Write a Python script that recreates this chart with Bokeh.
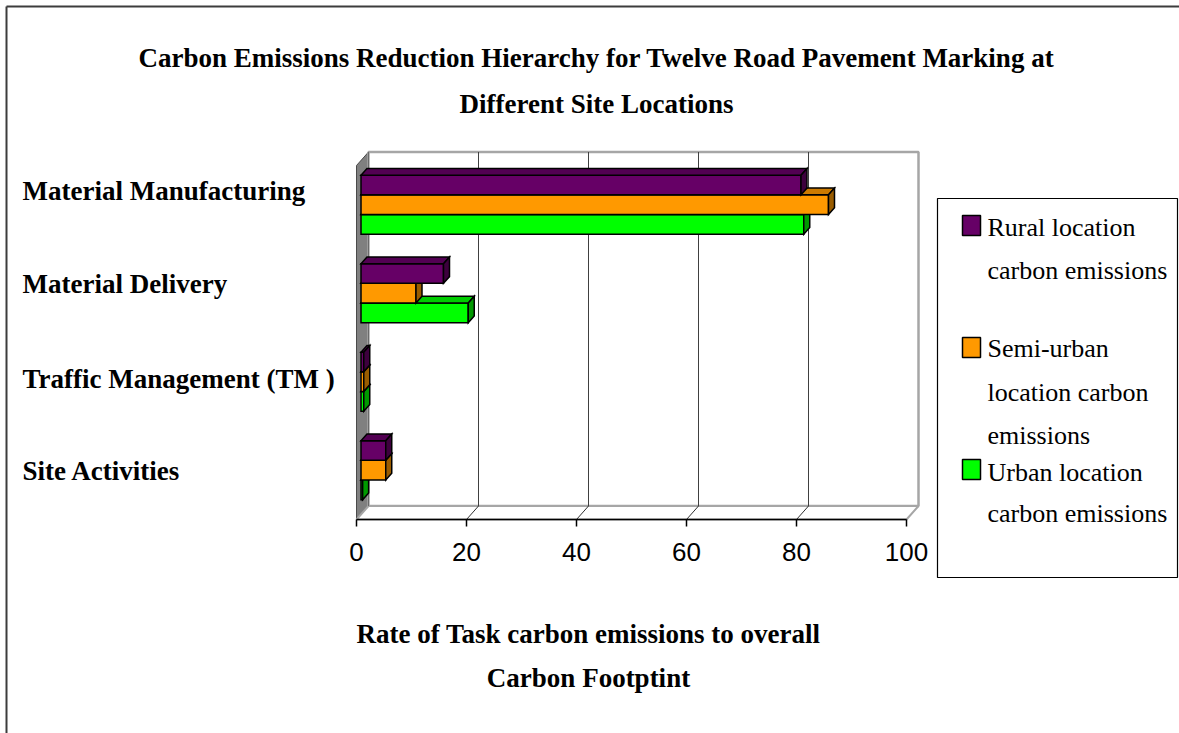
from bokeh.plotting import figure
from bokeh.models import Range1d, LinearAxis, FixedTicker, ColumnDataSource
from bokeh.core.properties import value
from bokeh.embed import file_html
from bokeh.resources import INLINE

# ---- data -------------------------------------------------------------
categories = ["Material Manufacturing", "Material Delivery",
              "Traffic Management (TM )", "Site Activities"]
rural = [80, 15, 0.5, 4.5]
semi_urban = [85, 10, 0.5, 4.5]
urban = [80.5, 19.5, 0.5, 0.3]
series = [rural, semi_urban, urban]
legend_lines = [["Rural location", "carbon emissions"],
                ["Semi-urban", "location carbon", "emissions"],
                ["Urban location", "carbon emissions"]]
x_ticks = [0, 20, 40, 60, 80, 100]
title_lines = ["Carbon Emissions Reduction Hierarchy for Twelve Road Pavement Marking at",
               "Different Site Locations"]
x_title_lines = ["Rate of Task carbon emissions to overall", "Carbon Footptint"]

# ---- styling ------------------------------------------------------------
front_cols = ["#660066", "#FF9900", "#00FF00"]
top_cols = ["#520052", "#CC7A00", "#00CC00"]
side_cols = ["#3D003D", "#995C00", "#009900"]

W, H = 1179, 733
X0, SX = 356.0, 5.5     # page x of value 0 on the front axis, px per unit
Y0, SY = 519.0, 88.5    # page y of the front floor edge, px per category slot
DEPTH_X, DEPTH_Y = 12.0, 13.5  # 3-D depth of the plot box in px
F0, F1 = 0.375, 0.875          # bar front / back as fraction of depth


def X(px):
    return (px - X0) / SX


def Y(py):
    return (Y0 - py) / SY


DX = DEPTH_X / SX
DY = DEPTH_Y / SY
N = len(categories)
XMAX = x_ticks[-1]

p = figure(width=W, height=H, x_range=Range1d(X(0), X(W)), y_range=Range1d(Y(H), Y(0)),
           x_axis_type=None, y_axis_type=None, toolbar_location=None,
           output_backend="svg", min_border=0)
p.outline_line_color = None
p.background_fill_color = "white"
p.border_fill_color = "white"

# ---- walls and floor ---------------------------------------------------
p.patch([0, DX, DX, 0], [0, DY, N + DY, N], fill_color="#808080",
        line_color="#4a4a4a", line_width=1)
p.quad(left=[DX], right=[XMAX + DX], bottom=[DY], top=[N + DY],
       fill_color="white", line_color="#a6a6a6", line_width=2.5)
p.patch([0, XMAX, XMAX + DX, DX], [0, 0, DY, DY], fill_color="white",
        line_color="#a6a6a6", line_width=2)
grid_t = x_ticks[1:-1]
p.segment(x0=[t + DX for t in grid_t], y0=[DY] * len(grid_t),
          x1=[t + DX for t in grid_t], y1=[N + DY] * len(grid_t),
          line_color="#404040", line_width=1)
p.segment(x0=grid_t, y0=[0] * len(grid_t), x1=[t + DX for t in grid_t],
          y1=[DY] * len(grid_t), line_color="#303030", line_width=1)
p.segment(x0=[DX], y0=[DY], x1=[DX], y1=[N + DY], line_color="#6a6a6a", line_width=1)

# ---- 3-D bars -----------------------------------------------------------
bw = (1 / 1.5) / len(series)
xs, ys, fills = [], [], []
for k in range(N - 1, -1, -1):          # bottom category first
    c = N - k - 0.5
    for s in range(len(series) - 1, -1, -1):   # lowest bar of group first
        v = series[s][k]
        yb = c + 1.5 * bw - (s + 1) * bw
        yt = yb + bw
        a0, a1 = F0 * DX, F1 * DX
        b0, b1 = F0 * DY, F1 * DY
        xs.append([a0, v + a0, v + a0, a0])
        ys.append([yb + b0, yb + b0, yt + b0, yt + b0])
        fills.append(front_cols[s])
        xs.append([a0, v + a0, v + a1, a1])
        ys.append([yt + b0, yt + b0, yt + b1, yt + b1])
        fills.append(top_cols[s])
        xs.append([v + a0, v + a1, v + a1, v + a0])
        ys.append([yb + b0, yb + b1, yt + b1, yt + b0])
        fills.append(side_cols[s])
p.patches(xs="xs", ys="ys", fill_color="fill", line_color="black", line_width=1.5,
          line_join="miter", source=ColumnDataSource(dict(xs=xs, ys=ys, fill=fills)))

# ---- value axis ------------------------------------------------------------
ax = LinearAxis(fixed_location=0, bounds=(0, XMAX), ticker=FixedTicker(ticks=x_ticks))
ax.axis_line_color = "black"
ax.axis_line_width = 1.5
ax.major_tick_line_color = "black"
ax.major_tick_line_width = 1.5
ax.major_tick_in = 0
ax.major_tick_out = 7
ax.minor_tick_line_color = None
ax.major_label_standoff = 16
ax.major_label_text_font = "Liberation Sans"
ax.major_label_text_font_size = "26px"
ax.major_label_text_color = "black"
p.add_layout(ax, "below")

serif = value("Liberation Serif")

# ---- titles and category names -----------------------------------------
p.text(x=[X(596)] * 2, y=[Y(57), Y(103)], text=title_lines, text_font=serif,
       text_font_style="bold", text_font_size="27px", text_align="center",
       text_baseline="middle", text_color="black")
cat_py = [190, 283, 378, 470]
p.text(x=[X(22)] * N, y=[Y(v) for v in cat_py], text=categories, text_font=serif,
       text_font_style="bold", text_font_size="27px", text_align="left",
       text_baseline="middle", text_color="black")
p.text(x=[X(588)] * 2, y=[Y(633), Y(677)], text=x_title_lines, text_font=serif,
       text_font_style="bold", text_font_size="27px", text_align="center",
       text_baseline="middle", text_color="black")

# ---- legend -----------------------------------------------------------------
p.quad(left=[X(937)], right=[X(1177)], top=[Y(198)], bottom=[Y(577)],
       fill_color="white", line_color="black", line_width=1.2)
sw_top = [215, 337, 459]
p.quad(left=[X(962)] * 3, right=[X(980)] * 3, top=[Y(t) for t in sw_top],
       bottom=[Y(t + 20) for t in sw_top], fill_color=front_cols,
       line_color="black", line_width=1.5)
leg_py = [[227, 270], [348, 392, 435], [472, 513]]
lx, ly, lt = [], [], []
for lines, pys in zip(legend_lines, leg_py):
    for t, py in zip(lines, pys):
        lx.append(X(987))
        ly.append(Y(py))
        lt.append(t)
p.text(x=lx, y=ly, text=lt, text_font=serif, text_font_size="26px",
       text_align="left", text_baseline="middle", text_color="black")

# ---- chart border --------------------------------------------------------------
p.multi_line(xs=[[X(6), X(6)], [X(6), X(W + 5)]], ys=[[Y(6), Y(H + 5)], [Y(6), Y(6)]],
             line_color="#3c3c3c", line_width=2)

open("out.html", "w").write(file_html(p, INLINE))
